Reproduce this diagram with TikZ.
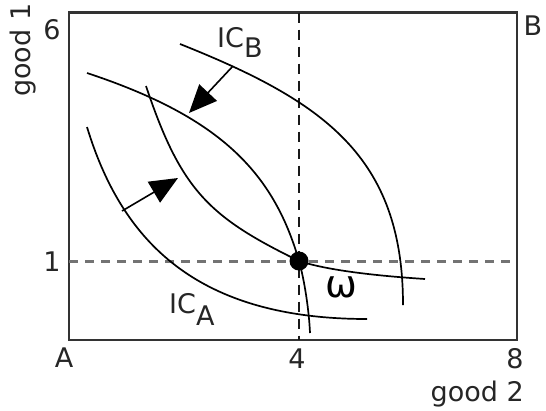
\documentclass[tikz,border=0pt]{standalone}
\usepackage{fontspec}
\setmainfont{DejaVu Sans}
\usetikzlibrary{arrows.meta}
\tikzset{
  curve/.style={line width=1.7pt, draw=black, line join=round},
  frame/.style={line width=2.5pt, draw=black!80},
  hdash/.style={line width=2.4pt, draw=black!55, dash pattern=on 9pt off 7pt},
  vdash/.style={line width=2pt, draw=black!90, dash pattern=on 10pt off 7pt},
  lab/.style={font=\fontsize{27}{30}\selectfont, inner sep=0pt, text=black!85},
  shiftarrow/.style={line width=1.6pt, -{Triangle[length=28pt,width=24pt]}},
}
\begin{document}
\begin{tikzpicture}[x=1pt,y=-1pt]
\useasboundingbox (0,0) rectangle (546,410);
% frame
\coordinate (A0) at (69,12.5);
\coordinate (B0) at (517,340);
\draw[frame] (A0) rectangle (B0);
% dashed guide lines
\coordinate (hL) at (69,261.5);
\coordinate (hR) at (517,261.5);
\coordinate (vT) at (299,12.5);
\coordinate (vB) at (299,340);
\draw[hdash] (hL) -- (hR);
\draw[vdash] (vT) -- (vB);
% endowment point
\coordinate (W) at (299,261);
% indifference curves
\coordinate (b1s) at (180,44);  \coordinate (b1e) at (403,305);
\draw[curve] (b1s) .. controls (323,101) and (403,156) .. (b1e);
\coordinate (b2s) at (87,73);   \coordinate (b2e) at (310,333);
\draw[curve] (b2s) .. controls (217,116) and (273,170) .. (W)
                   .. controls (304.4,280) and (309,310) .. (b2e);
\coordinate (a1s0) at (146,86); \coordinate (a1e0) at (425,279);
\draw[curve] (a1s0) .. controls (181,190.5) and (209,217) .. (W)
                    .. controls (330,271) and (380,276) .. (a1e0);
\coordinate (a2s0) at (87,127); \coordinate (a2e0) at (367,319);
\draw[curve] (a2s0) .. controls (122,242) and (197,319) .. (a2e0);
% arrows
\coordinate (r1s) at (233,66);
\coordinate (r1e) at (189,113);
\coordinate (r2s) at (122,211);
\coordinate (r2e) at (178,178);
\draw[shiftarrow] (r1s) -- (r1e);
\draw[shiftarrow] (r2s) -- (r2e);
% endowment
\node[circle, fill=black, minimum size=19pt, inner sep=0pt] (w) at (W) {};
\node[font=\fontsize{38}{40}\selectfont, inner sep=0pt] (om) at (341,287) {ω};
% labels
\node[lab, anchor=base] (six) at (52,39) {6};
\node[lab, anchor=base] (one) at (52,271) {1};
\node[lab, anchor=base] (lA) at (64,367) {A};
\node[lab, anchor=base] (four) at (297,368) {4};
\node[lab, anchor=base] (eight) at (515,368) {8};
\node[lab, anchor=base] (lB) at (533,35) {B};
\node[lab, anchor=base east] (g2) at (524,401) {good 2};
\node[lab, anchor=base west, rotate=90] (g1) at (30,97) {good 1};
\node[lab, anchor=base west] (icb) at (217,47) {IC\raisebox{-10pt}{B}};
\node[lab, anchor=base west] (ica) at (169,313) {IC\raisebox{-12pt}{A}};
\end{tikzpicture}
\end{document}
